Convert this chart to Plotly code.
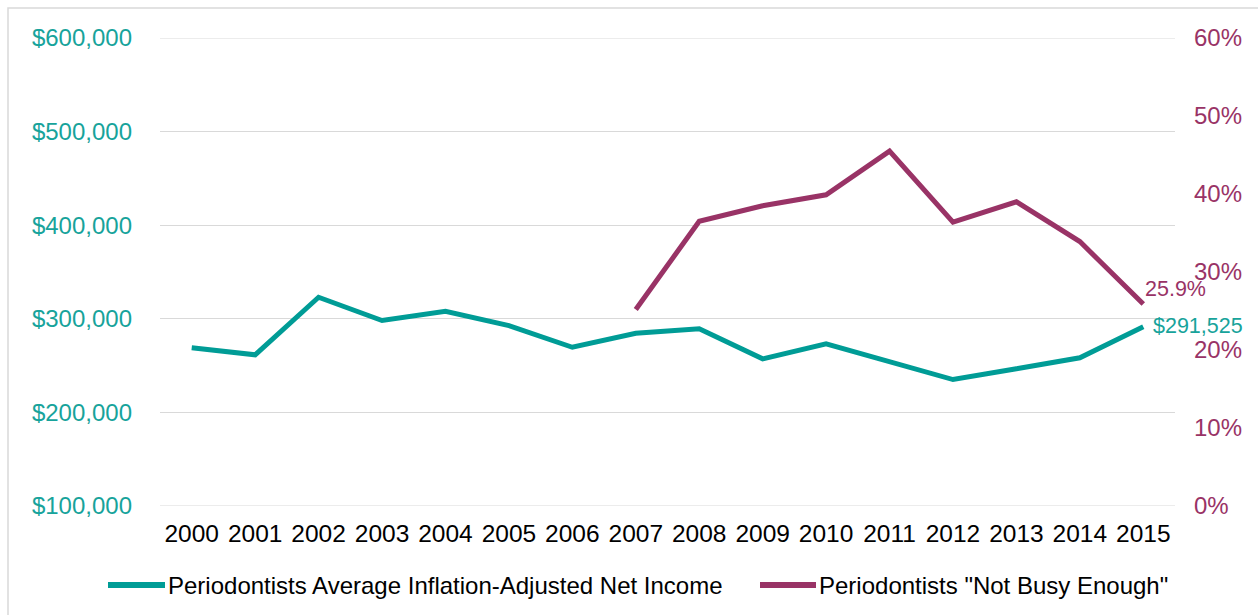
import plotly.graph_objects as go

# Survey years and series values
years = list(range(2000, 2016))
net_income = [269000, 261500, 323000, 298200, 308100, 292800, 269600, 284600,
              289300, 257200, 273300, 254300, 235100, 246700, 258300, 291525]
not_busy_years = list(range(2007, 2016))
not_busy = [0.252, 0.365, 0.385, 0.399, 0.455, 0.364, 0.390, 0.339, 0.259]

income_ticks = [100000, 200000, 300000, 400000, 500000, 600000]
pct_ticks = [0.0, 0.1, 0.2, 0.3, 0.4, 0.5, 0.6]

TEAL = "#009C96"
TEAL_TXT = "#17A39B"
PLUM = "#993366"
GRID = "#D9D9D9"
FONT = "Liberation Sans, Arial, sans-serif"

W, H = 1258, 615
L, R, T, B = 160, 1175, 38, 506


def px_x(p):
    return (p - L) / (R - L)


def px_y(p):
    return (B - p) / (B - T)


fig = go.Figure()
fig.add_trace(go.Scatter(
    x=years, y=net_income, mode="lines", name="Periodontists Average Inflation-Adjusted Net Income",
    line=dict(color=TEAL, width=5), yaxis="y", showlegend=False))
fig.add_trace(go.Scatter(
    x=not_busy_years, y=not_busy, mode="lines", name='Periodontists "Not Busy Enough"',
    line=dict(color=PLUM, width=5), yaxis="y2", showlegend=False))

# Gridlines on the top and bottom edges of the income range
for v in (income_ticks[0], income_ticks[-1]):
    fig.add_shape(type="line", xref="paper", yref="y", x0=0, x1=1, y0=v, y1=v,
                  line=dict(color=GRID, width=1), layer="below")

# End-of-line value labels
fig.add_annotation(x=years[-1], y=net_income[-1], xref="x", yref="y",
                   text="${:,.0f}".format(net_income[-1]), showarrow=False,
                   xanchor="left", yanchor="middle", xshift=8, yshift=1,
                   font=dict(family=FONT, size=21.5, color=TEAL_TXT))
fig.add_annotation(x=not_busy_years[-1], y=not_busy[-1], xref="x", yref="y2",
                   text="{:.1f}%".format(not_busy[-1] * 100), showarrow=False,
                   xanchor="left", yanchor="middle", xshift=0, yshift=15,
                   font=dict(family=FONT, size=21.5, color=PLUM))

# Legend drawn below the axis
legend_y = px_y(585)
entries = [
    (108, 165, 166, TEAL, "Periodontists Average Inflation-Adjusted Net Income"),
    (760, 816, 817, PLUM, 'Periodontists "Not Busy Enough"'),
]
for x0, x1, xt, col, label in entries:
    fig.add_shape(type="line", xref="paper", yref="paper",
                  x0=px_x(x0), x1=px_x(x1), y0=legend_y, y1=legend_y,
                  line=dict(color=col, width=6))
    fig.add_annotation(x=px_x(xt), y=legend_y, xref="paper", yref="paper",
                       text=label, showarrow=False, xanchor="left", yanchor="middle",
                       font=dict(family=FONT, size=24, color="#000000"))

# Outer chart frame
fig.add_shape(type="rect", xref="paper", yref="paper",
              x0=px_x(8), x1=px_x(W + 10), y0=px_y(H + 10), y1=px_y(8),
              line=dict(color=GRID, width=1.5), fillcolor="rgba(0,0,0,0)", layer="below")

fig.update_layout(
    width=W, height=H,
    margin=dict(l=L, r=W - R, t=T, b=H - B),
    paper_bgcolor="white", plot_bgcolor="white",
    font=dict(family=FONT, size=24),
    xaxis=dict(range=[1999.5, 2015.5], tickmode="array", tickvals=years,
               ticktext=[str(y) for y in years], showgrid=False, zeroline=False,
               showline=False, ticks="", tickfont=dict(color="#000000", size=24.5),
               ticklabelstandoff=10),
    yaxis=dict(range=[100000, 600000], tickmode="array", tickvals=income_ticks,
               ticktext=["${:,.0f}".format(v) for v in income_ticks],
               showgrid=True, gridcolor=GRID, gridwidth=1, zeroline=False,
               showline=False, ticks="", tickfont=dict(color=TEAL_TXT, size=24),
               ticklabelstandoff=27),
    yaxis2=dict(range=[0, 0.6], overlaying="y", side="right", tickmode="array",
                tickvals=pct_ticks, ticktext=["{:.0f}%".format(v * 100) for v in pct_ticks],
                showgrid=False, zeroline=False, showline=False, ticks="",
                tickfont=dict(color=PLUM, size=24), ticklabelstandoff=18),
)

fig.write_html("out.html")
